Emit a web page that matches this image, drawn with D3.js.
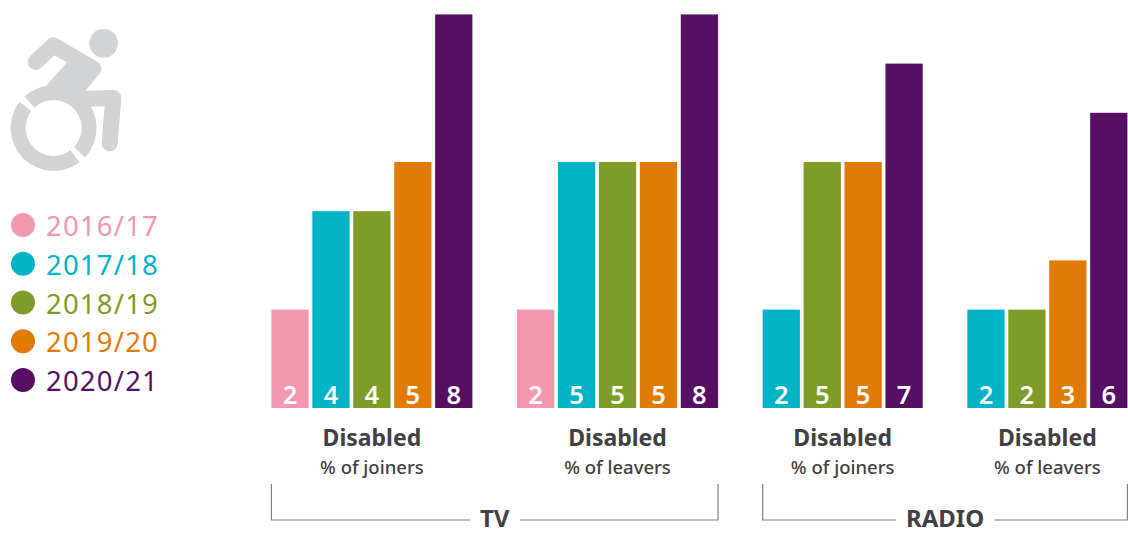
<!DOCTYPE html>
<html>
<head>
<meta charset="utf-8">
<title>Disabled joiners and leavers</title>
<script src="https://cdn.jsdelivr.net/npm/d3@7"></script>
<style>
  html, body { margin: 0; padding: 0; background: #fff; }
  svg { display: block; }
  text { font-family: "Noto Sans", sans-serif; }
</style>
</head>
<body>
<svg id="chart" width="1128" height="539"></svg>
<script>
// Data
var seasons = ['2016/17', '2017/18', '2018/19', '2019/20', '2020/21'];
var seasonColours = ['#f497b0', '#00b3c7', '#7f9c28', '#e07b08', '#560f62'];
var groupTitles = ['Disabled', 'Disabled', 'Disabled', 'Disabled'];
var groupSubtitles = ['% of joiners', '% of leavers', '% of joiners', '% of leavers'];
var tvJoiners = [2, 4, 4, 5, 8];
var tvLeavers = [2, 5, 5, 5, 8];
var radioJoiners = [null, 2, 5, 5, 7];
var radioLeavers = [null, 2, 2, 3, 6];
var groupValues = [tvJoiners, tvLeavers, radioJoiners, radioLeavers];
var mediaNames = ['TV', 'RADIO'];
var mediaGroups = [[0, 1], [2, 3]];

var textColour = '#414042';
var ruleColour = '#808285';
var iconColour = '#d1d3d4';

var svg = d3.select('#chart');

// bars sit in one run of slots, with an empty slot between groups
var bars = [];
var slot = 0;
var groupSlots = groupValues.map(function (values) {
  var first = slot;
  values.forEach(function (v, i) {
    if (v !== null) {
      bars.push({ slot: slot, value: v, season: i });
      slot++;
    }
  });
  var last = slot - 1;
  slot++;
  return [first, last];
});

var x = d3.scaleBand()
  .domain(d3.range(slot - 1))
  .range([271.4, 1127.4])
  .paddingInner(0.09)
  .paddingOuter(0);

var y = d3.scaleLinear().domain([0, 8]).range([408, 14.4]);

function groupLeft(i) { return x(groupSlots[i][0]); }
function groupRight(i) { return x(groupSlots[i][1]) + x.bandwidth(); }
function groupMiddle(i) { return (groupLeft(i) + groupRight(i)) / 2; }

drawIcon();
drawLegend();
drawBars();
drawGroupLabels();
drawBrackets();

function drawBars() {
  svg.append('g').selectAll('rect')
    .data(bars)
    .join('rect')
    .attr('x', function (d) { return x(d.slot); })
    .attr('y', function (d) { return y(d.value); })
    .attr('width', x.bandwidth())
    .attr('height', function (d) { return y(0) - y(d.value); })
    .attr('fill', function (d) { return seasonColours[d.season]; });

  svg.append('g').selectAll('text')
    .data(bars)
    .join('text')
    .attr('x', function (d) { return x(d.slot) + x.bandwidth() / 2; })
    .attr('y', 403.5)
    .attr('text-anchor', 'middle')
    .style('font-size', '25.5px')
    .style('font-weight', 600)
    .style('fill', '#fff')
    .text(function (d) { return d.value; });
}

function drawGroupLabels() {
  var g = svg.append('g').style('fill', textColour);
  g.selectAll('text.title')
    .data(groupTitles)
    .join('text')
    .attr('class', 'title')
    .attr('x', function (d, i) { return groupMiddle(i); })
    .attr('y', 446)
    .attr('text-anchor', 'middle')
    .style('font-size', '23px')
    .style('font-weight', 700)
    .text(function (d) { return d; });
  g.selectAll('text.subtitle')
    .data(groupSubtitles)
    .join('text')
    .attr('class', 'subtitle')
    .attr('x', function (d, i) { return groupMiddle(i); })
    .attr('y', 474)
    .attr('text-anchor', 'middle')
    .style('font-size', '18.5px')
    .style('font-weight', 500)
    .text(function (d) { return d; });
}

function drawBrackets() {
  mediaNames.forEach(function (name, i) {
    var left = groupLeft(mediaGroups[i][0]);
    var right = groupRight(mediaGroups[i][1]);
    var middle = (left + right) / 2;
    var g = svg.append('g');

    var label = g.append('text')
      .attr('x', middle)
      .attr('y', 527)
      .attr('text-anchor', 'middle')
      .style('font-size', '24px')
      .style('font-weight', 700)
      .style('fill', textColour)
      .text(name);

    // the rule breaks around the label
    var box = label.node().getBBox();
    var line = d3.line();
    [[[left, 484], [left, 520], [box.x - 10, 520]],
     [[box.x + box.width + 10, 520], [right, 520], [right, 484]]].forEach(function (pts) {
      g.append('path')
        .attr('d', line(pts))
        .attr('fill', 'none')
        .attr('stroke', ruleColour)
        .attr('stroke-width', 1.2);
    });
  });
}

function drawLegend() {
  var ly = d3.scalePoint().domain(seasons).range([225, 380]);
  var rows = svg.append('g').selectAll('g')
    .data(seasons)
    .join('g')
    .attr('transform', function (d) { return 'translate(0,' + ly(d) + ')'; });
  rows.append('circle')
    .attr('cx', 23)
    .attr('r', 12)
    .attr('fill', function (d, i) { return seasonColours[i]; });
  rows.append('text')
    .attr('x', 46)
    .attr('y', 11)
    .style('font-size', '27.5px')
    .style('letter-spacing', '1.2px')
    .style('fill', function (d, i) { return seasonColours[i]; })
    .text(function (d) { return d; });
}

// Accessible icon: wheel, body and head, laid out on a 3x grid
function drawIcon() {
  var g = svg.append('g')
    .attr('transform', 'translate(0,10) scale(0.3333)')
    .attr('fill', iconColour);

  var wheel = d3.arc().innerRadius(84).outerRadius(129);
  var gap = 0.085;
  var nw = -48 * Math.PI / 180;
  var se = 138 * Math.PI / 180;
  [[nw + gap, se - gap], [se + gap, nw + 2 * Math.PI - gap]].forEach(function (a) {
    g.append('path')
      .attr('transform', 'translate(161,354)')
      .attr('d', wheel({ startAngle: a[0], endAngle: a[1] }));
  });

  g.append('circle').attr('cx', 311).attr('cy', 100).attr('r', 43);

  var line = d3.line();
  g.append('path')
    .attr('d', line([[107, 156], [160, 106], [280, 176]]))
    .attr('fill', 'none')
    .attr('stroke', iconColour)
    .attr('stroke-width', 48)
    .attr('stroke-linecap', 'round')
    .attr('stroke-linejoin', 'round');
  g.append('path')
    .attr('d', line([[258, 266], [340, 264], [329, 400]]))
    .attr('fill', 'none')
    .attr('stroke', iconColour)
    .attr('stroke-width', 48)
    .attr('stroke-linecap', 'round')
    .attr('stroke-linejoin', 'round');
  g.append('path')
    .attr('d', line([[203, 155], [140, 226], [180, 240], [240, 292], [262, 290], [258, 240], [300, 190], [285, 150]]) + 'Z');
}
</script>
</body>
</html>
